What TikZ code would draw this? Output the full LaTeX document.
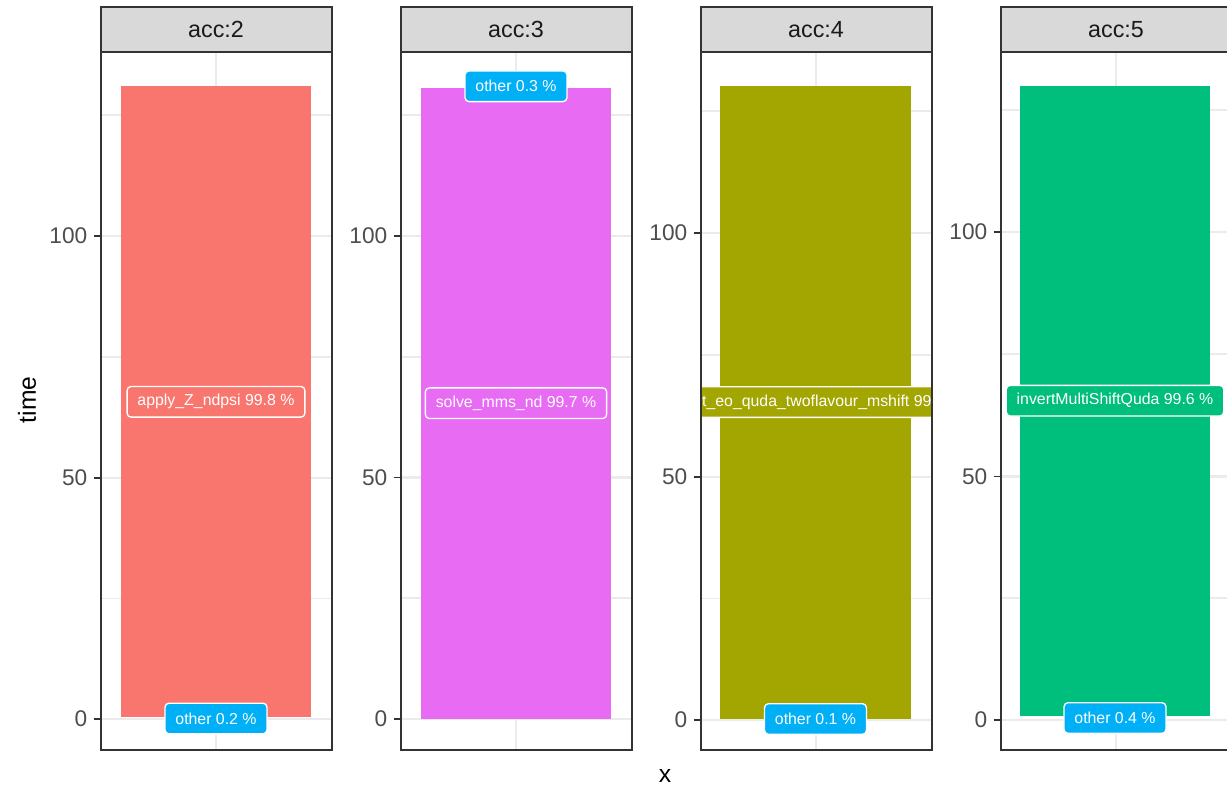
\documentclass[tikz,border=0pt]{standalone}
\usepackage{fontspec}
\setmainfont{Liberation Sans}
\definecolor{gridc}{HTML}{EBEBEB}
\definecolor{borderc}{HTML}{333333}
\definecolor{stripc}{HTML}{D9D9D9}
\definecolor{tickc}{HTML}{4D4D4D}
\definecolor{stript}{HTML}{1A1A1A}
\definecolor{cA}{HTML}{F8766D}
\definecolor{cB}{HTML}{E76BF3}
\definecolor{cC}{HTML}{A3A500}
\definecolor{cD}{HTML}{00BF7D}
\definecolor{cO}{HTML}{00B0F6}
\tikzset{
  majorgrid/.style={draw=gridc, line width=1.6pt},
  minorgrid/.style={draw=gridc, line width=0.8pt},
  frame/.style={draw=borderc, line width=1.5pt},
  stripbox/.style={fill=stripc, draw=borderc, line width=1.5pt},
  striplabel/.style={font=\fontsize{17.5}{20}\selectfont, text=stript},
  ticklabel/.style={font=\fontsize{17}{20}\selectfont, text=tickc, anchor=east, inner sep=0pt},
  tickmark/.style={draw=borderc, line width=1.1pt},
  barlabel/.style={rounded corners=3pt, draw=white, line width=1pt, text=white,
    font=\fontsize{11.9}{14}\selectfont, inner xsep=7.8pt, inner ysep=0pt, minimum height=23pt},
  axistitle/.style={font=\fontsize{18.5}{22}\selectfont, text=black},
}
\begin{document}
\begin{tikzpicture}[x=0.75pt,y=-0.75pt]
\clip (0,0) rectangle (1227,795);
\fill[white] (0,0) rectangle (1227,795);
% panels: left / label / y0 / y50 / y100 / y25 / y75 / y125
\foreach \L/\lab/\ya/\yb/\yc/\ma/\mb/\mc in {
  100.5/2/719/478/236/598.5/357/115,
  400.5/3/719/477.5/236/598/357/115,
  700.5/4/720/477/233/598.5/355/111,
  1000.5/5/720/476.5/232/598/354/110}{
  \pgfmathsetmacro{\R}{\L+231}
  \pgfmathsetmacro{\C}{\L+115.5}
  \foreach \y in {\ma,\mb,\mc}{\draw[minorgrid] (\L,\y) -- (\R,\y);}
  \foreach \y in {\ya,\yb,\yc}{\draw[majorgrid] (\L,\y) -- (\R,\y);}
  \draw[majorgrid] (\C,52) -- (\C,750);
}
% bars
\fill[cA] (121,717.3) rectangle (311,86);
\fill[cB] (421,719) rectangle (611,88.5);
\fill[cC] (720,719) rectangle (911,86);
\fill[cD] (1020,716) rectangle (1210,86);
% labels, clipped to panels
\begin{scope}
\clip (100.5,52) rectangle (331.5,750);
\node[barlabel, fill=cA] (lab2main) at (216,401.8) {apply\_Z\_ndpsi 99.8 \%};
\node[barlabel, fill=cO] (lab2other) at (216,718.5) {other 0.2 \%};
\end{scope}
\begin{scope}
\clip (400.5,52) rectangle (631.5,750);
\node[barlabel, fill=cB] (lab3main) at (516,403.2) {solve\_mms\_nd 99.7 \%};
\node[barlabel, fill=cO] (lab3other) at (516,86.3) {other 0.3 \%};
\end{scope}
\begin{scope}
\clip (700.5,52) rectangle (931.5,750);
\node[barlabel, fill=cC] (lab4main) at (815.5,402) {invert\_eo\_quda\_twoflavour\_mshift 99.9 \%};
\node[barlabel, fill=cO] (lab4other) at (815.5,719) {other 0.1 \%};
\end{scope}
\begin{scope}
\clip (1000.5,52) rectangle (1231.5,750);
\node[barlabel, fill=cD] (lab5main) at (1115,400.7) {invertMultiShiftQuda 99.6 \%};
\node[barlabel, fill=cO] (lab5other) at (1115,718) {other 0.4 \%};
\end{scope}
% frames, strips, ticks
\foreach \L/\lab/\ya/\yb/\yc in {
  100.5/2/719/478/236,
  400.5/3/719/477.5/236,
  700.5/4/720/477/233,
  1000.5/5/720/476.5/232}{
  \pgfmathsetmacro{\R}{\L+231}
  \pgfmathsetmacro{\C}{\L+115.5}
  \draw[frame] (\L,52) rectangle (\R,750);
  \draw[stripbox] (\L,7) rectangle (\R,52);
  \node[striplabel] (strip\lab) at (\C,29.5) {acc:\lab};
  \foreach \y/\t in {\ya/0,\yb/50,\yc/100}{
    \draw[tickmark] (\L-7,\y) -- (\L,\y);
    \node[ticklabel] (tick\lab-\t) at (\L-13,\y) {\t};
  }
}
\node[axistitle, rotate=90] (ytitle) at (27,400) {time};
\node[axistitle] (xtitle) at (665,776) {x};
\end{tikzpicture}
\end{document}
